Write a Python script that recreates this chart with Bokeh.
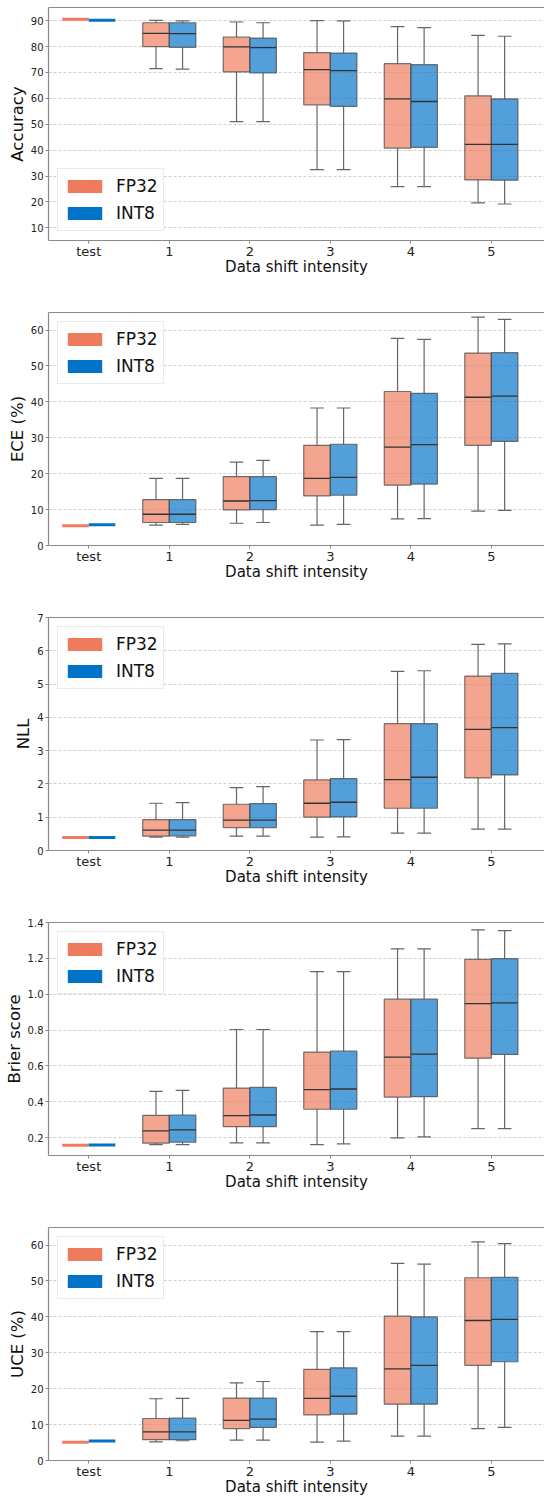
from bokeh.plotting import figure
from bokeh.models import (FixedTicker, LinearAxis, Legend, LegendItem, Range1d,
                          PrintfTickFormatter)
from bokeh.layouts import column
from bokeh.embed import file_html
from bokeh.resources import INLINE

# ---------------- data ----------------
CATEGORIES = ["test", "1", "2", "3", "4", "5"]
SERIES = ["FP32", "INT8"]

# Accuracy
ACC_FP32_LO = [90.6, 71.5, 51.0, 32.5, 25.9, 19.6]
ACC_FP32_Q1 = [90.6, 80.0, 70.2, 57.5, 40.8, 28.5]
ACC_FP32_MED = [90.6, 85.1, 79.9, 71.1, 59.8, 42.2]
ACC_FP32_Q3 = [90.6, 89.2, 83.7, 77.7, 73.4, 61.0]
ACC_FP32_HI = [90.6, 90.1, 89.5, 90.0, 87.7, 84.3]
ACC_INT8_LO = [90.2, 71.3, 51.0, 32.5, 25.9, 19.2]
ACC_INT8_Q1 = [90.2, 79.7, 69.8, 56.9, 41.1, 28.4]
ACC_INT8_MED = [90.2, 85.0, 79.6, 70.7, 58.8, 42.2]
ACC_INT8_Q3 = [90.2, 89.2, 83.3, 77.5, 73.0, 59.8]
ACC_INT8_HI = [90.2, 89.9, 89.2, 89.9, 87.3, 84.0]

# ECE (%)
ECE_FP32_LO = [5.5, 5.7, 6.2, 5.7, 7.4, 9.6]
ECE_FP32_Q1 = [5.5, 6.4, 9.9, 13.8, 16.8, 27.9]
ECE_FP32_MED = [5.5, 8.7, 12.4, 18.7, 27.4, 41.3]
ECE_FP32_Q3 = [5.5, 12.8, 19.2, 27.9, 42.9, 53.6]
ECE_FP32_HI = [5.5, 18.7, 23.2, 38.3, 57.7, 63.6]
ECE_INT8_LO = [5.8, 5.9, 6.4, 5.9, 7.5, 9.8]
ECE_INT8_Q1 = [5.8, 6.4, 10.0, 14.0, 17.1, 29.0]
ECE_INT8_MED = [5.8, 8.7, 12.5, 19.0, 28.1, 41.6]
ECE_INT8_Q3 = [5.8, 12.8, 19.2, 28.2, 42.4, 53.7]
ECE_INT8_HI = [5.8, 18.7, 23.7, 38.3, 57.4, 63.0]

# NLL
NLL_FP32_LO = [0.39, 0.40, 0.43, 0.40, 0.52, 0.64]
NLL_FP32_Q1 = [0.39, 0.43, 0.69, 1.00, 1.27, 2.18]
NLL_FP32_MED = [0.39, 0.61, 0.91, 1.42, 2.13, 3.64]
NLL_FP32_Q3 = [0.39, 0.93, 1.39, 2.12, 3.81, 5.24]
NLL_FP32_HI = [0.39, 1.42, 1.89, 3.32, 5.38, 6.19]
NLL_INT8_LO = [0.39, 0.40, 0.43, 0.41, 0.52, 0.64]
NLL_INT8_Q1 = [0.39, 0.44, 0.69, 1.01, 1.27, 2.27]
NLL_INT8_MED = [0.39, 0.61, 0.91, 1.45, 2.20, 3.69]
NLL_INT8_Q3 = [0.39, 0.93, 1.41, 2.16, 3.81, 5.32]
NLL_INT8_HI = [0.39, 1.44, 1.92, 3.33, 5.40, 6.21]

# Brier score
BRIER_FP32_LO = [0.157, 0.161, 0.170, 0.161, 0.198, 0.250]
BRIER_FP32_Q1 = [0.157, 0.169, 0.261, 0.358, 0.426, 0.643]
BRIER_FP32_MED = [0.157, 0.237, 0.322, 0.467, 0.649, 0.947]
BRIER_FP32_Q3 = [0.157, 0.324, 0.476, 0.677, 0.972, 1.194]
BRIER_FP32_HI = [0.157, 0.458, 0.803, 1.126, 1.253, 1.359]
BRIER_INT8_LO = [0.159, 0.161, 0.170, 0.165, 0.204, 0.250]
BRIER_INT8_Q1 = [0.159, 0.174, 0.261, 0.358, 0.428, 0.664]
BRIER_INT8_MED = [0.159, 0.243, 0.326, 0.471, 0.666, 0.951]
BRIER_INT8_Q3 = [0.159, 0.326, 0.480, 0.682, 0.972, 1.198]
BRIER_INT8_HI = [0.159, 0.463, 0.803, 1.126, 1.253, 1.355]

# UCE (%)
UCE_FP32_LO = [5.1, 5.2, 5.7, 5.1, 6.8, 8.9]
UCE_FP32_Q1 = [5.1, 5.8, 8.9, 12.7, 15.7, 26.5]
UCE_FP32_MED = [5.1, 8.0, 11.2, 17.3, 25.5, 39.0]
UCE_FP32_Q3 = [5.1, 11.7, 17.4, 25.4, 40.2, 50.9]
UCE_FP32_HI = [5.1, 17.2, 21.6, 35.9, 54.9, 60.9]
UCE_INT8_LO = [5.4, 5.5, 5.7, 5.4, 6.8, 9.2]
UCE_INT8_Q1 = [5.4, 5.8, 9.2, 12.9, 15.7, 27.5]
UCE_INT8_MED = [5.4, 8.0, 11.5, 17.9, 26.5, 39.3]
UCE_INT8_Q3 = [5.4, 11.8, 17.4, 25.8, 40.0, 51.0]
UCE_INT8_HI = [5.4, 17.3, 22.0, 35.9, 54.7, 60.4]

# ---------------- style ----------------
FONT = "DejaVu Sans"
COLORS = {"FP32": "#EE7B5B", "INT8": "#0072C8"}
OFFSETS = {"FP32": -0.165, "INT8": 0.165}
BOX_W = 0.33
CAP_W = 0.17
SPINE = "#8a8a8a"
WHISK = "#666666"


def panel(ylabel, yrange, yticks, fmt, legend_loc, data, top_border, bottom_border):
    p = figure(frame_width=496, frame_height=233,
               x_range=Range1d(-0.5, 5.66), y_range=Range1d(*yrange),
               output_backend="svg", toolbar_location=None,
               min_border_left=48, min_border_right=0,
               min_border_top=top_border, min_border_bottom=bottom_border)
    p.outline_line_color = None
    p.background_fill_color = "white"
    p.border_fill_color = "white"

    legend_items = []
    for s in SERIES:
        lo, q1, med, q3, hi = data[s]
        off = OFFSETS[s]
        col = COLORS[s]
        xs = [i + off for i in range(len(CATEGORIES))]
        bx = xs[1:]
        # whiskers
        p.segment(x0=bx, x1=bx, y0=q3[1:], y1=hi[1:], line_color=WHISK, line_width=1.2)
        p.segment(x0=bx, x1=bx, y0=q1[1:], y1=lo[1:], line_color=WHISK, line_width=1.2)
        # boxes
        p.vbar(x=bx, width=BOX_W, bottom=q1[1:], top=q3[1:], fill_color=col,
               fill_alpha=0.68, line_color="#4a4a4a", line_alpha=0.75, line_width=1.2)
        # medians
        p.segment(x0=[x - BOX_W / 2 for x in bx], x1=[x + BOX_W / 2 for x in bx],
                  y0=med[1:], y1=med[1:], line_color="#333333", line_width=1.3)
        # caps
        p.segment(x0=[x - CAP_W / 2 for x in bx], x1=[x + CAP_W / 2 for x in bx],
                  y0=hi[1:], y1=hi[1:], line_color=WHISK, line_width=1.2)
        p.segment(x0=[x - CAP_W / 2 for x in bx], x1=[x + CAP_W / 2 for x in bx],
                  y0=lo[1:], y1=lo[1:], line_color=WHISK, line_width=1.2)
        # test (degenerate box)
        r = p.rect(x=[xs[0]], y=[med[0]], width=BOX_W, height=3, height_units="screen",
                   fill_color=col, line_color=None)
        legend_items.append(LegendItem(label=s, renderers=[r]))

    leg = Legend(items=legend_items, location=legend_loc, margin=9, padding=5,
                 spacing=3, glyph_width=43, glyph_height=16, label_height=24,
                 label_standoff=10, label_text_font=FONT, label_text_font_size="17px",
                 label_text_color="#111111", border_line_color="#d6d6d6",
                 border_line_width=1, background_fill_alpha=0.85)
    p.add_layout(leg)

    xt = FixedTicker(ticks=list(range(len(CATEGORIES))))
    p.xaxis.ticker = xt
    p.xaxis.major_label_overrides = {i: c for i, c in enumerate(CATEGORIES)}
    yt = FixedTicker(ticks=yticks)
    p.yaxis.ticker = yt
    p.ygrid.ticker = yt
    if fmt:
        p.yaxis.formatter = PrintfTickFormatter(format=fmt)
    p.xgrid.visible = False
    p.ygrid.grid_line_color = "#c4c4c4"
    p.ygrid.grid_line_dash = "3 2"
    p.ygrid.grid_line_width = 0.8

    p.xaxis.axis_label = "Data shift intensity"
    p.yaxis.axis_label = ylabel
    for ax in (p.xaxis[0], p.yaxis[0]):
        ax.axis_line_color = SPINE
        ax.axis_line_width = 1.2
        ax.major_tick_line_color = SPINE
        ax.major_tick_out = 3
        ax.major_tick_in = 0
        ax.minor_tick_line_color = None
        ax.axis_label_text_font = FONT
        ax.axis_label_text_font_style = "normal"
        ax.axis_label_text_color = "#111111"
        ax.major_label_text_font = FONT
        ax.major_label_text_color = "#222222"
    p.xaxis.major_label_text_font_size = "13px"
    p.xaxis.axis_label_text_font_size = "15px"
    p.xaxis.major_label_standoff = 0
    p.xaxis.axis_label_standoff = -4
    p.yaxis.major_label_text_font_size = "10px"
    p.yaxis.axis_label_text_font_size = "16.5px"
    p.yaxis.major_label_standoff = 2
    p.yaxis.axis_label_standoff = 1

    top = LinearAxis(ticker=FixedTicker(ticks=[]), axis_line_color=SPINE, axis_line_width=1.2,
                     major_tick_out=0, major_tick_in=0, minor_tick_out=0, minor_tick_in=0,
                     major_label_text_font_size="0px", major_label_standoff=0)
    p.add_layout(top, "above")
    return p


def d(lo1, q11, m1, q31, hi1, lo2, q12, m2, q32, hi2):
    return {"FP32": (lo1, q11, m1, q31, hi1), "INT8": (lo2, q12, m2, q32, hi2)}


p1 = panel("Accuracy", (5.1, 95.1), list(range(10, 100, 10)), None, "bottom_left",
           d(ACC_FP32_LO, ACC_FP32_Q1, ACC_FP32_MED, ACC_FP32_Q3, ACC_FP32_HI,
             ACC_INT8_LO, ACC_INT8_Q1, ACC_INT8_MED, ACC_INT8_Q3, ACC_INT8_HI), 7, 43)
p2 = panel("ECE (%)", (0, 64.9), list(range(0, 70, 10)), None, "top_left",
           d(ECE_FP32_LO, ECE_FP32_Q1, ECE_FP32_MED, ECE_FP32_Q3, ECE_FP32_HI,
             ECE_INT8_LO, ECE_INT8_Q1, ECE_INT8_MED, ECE_INT8_Q3, ECE_INT8_HI), 29, 43)
p3 = panel("NLL", (0, 7), list(range(0, 8)), None, "top_left",
           d(NLL_FP32_LO, NLL_FP32_Q1, NLL_FP32_MED, NLL_FP32_Q3, NLL_FP32_HI,
             NLL_INT8_LO, NLL_INT8_Q1, NLL_INT8_MED, NLL_INT8_Q3, NLL_INT8_HI), 29, 43)
p4 = panel("Brier score", (0.1, 1.4), [0.2, 0.4, 0.6, 0.8, 1.0, 1.2, 1.4], "%.1f", "top_left",
           d(BRIER_FP32_LO, BRIER_FP32_Q1, BRIER_FP32_MED, BRIER_FP32_Q3, BRIER_FP32_HI,
             BRIER_INT8_LO, BRIER_INT8_Q1, BRIER_INT8_MED, BRIER_INT8_Q3, BRIER_INT8_HI), 29, 43)
p5 = panel("UCE (%)", (0, 64.9), list(range(0, 70, 10)), None, "top_left",
           d(UCE_FP32_LO, UCE_FP32_Q1, UCE_FP32_MED, UCE_FP32_Q3, UCE_FP32_HI,
             UCE_INT8_LO, UCE_INT8_Q1, UCE_INT8_MED, UCE_INT8_Q3, UCE_INT8_HI), 29, 35)

layout = column(p1, p2, p3, p4, p5, spacing=0)
open("out.html", "w").write(file_html(layout, INLINE))
